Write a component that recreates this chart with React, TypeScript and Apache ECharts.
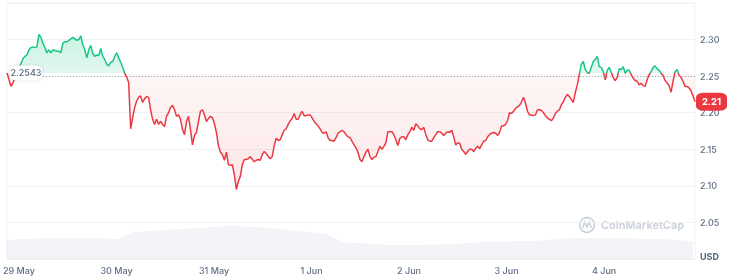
import React, { useEffect, useRef } from 'react';
import * as echarts from 'echarts';

// Opening price of the period (baseline)
const BASE_PRICE = 2.2543;
// first sample time, in hours relative to 29 May 00:00 (UTC), and sampling step (hours)
const DAY0 = Date.UTC(2025, 4, 29);
const START_HOUR = -2.945;
const STEP_HOUR = 0.4908;

// price samples (USD)
const price = [
  2.2543, 2.245, 2.236, 2.241, 2.248, 2.256, 2.262, 2.267, 2.274, 2.277,
  2.279, 2.286, 2.289, 2.290, 2.289, 2.290, 2.307, 2.303, 2.295, 2.289,
  2.282, 2.286, 2.282, 2.286, 2.285, 2.284, 2.284, 2.282, 2.295, 2.297,
  2.297, 2.299, 2.301, 2.303, 2.301, 2.299, 2.300, 2.305, 2.293, 2.286,
  2.275, 2.286, 2.292, 2.281, 2.277, 2.279, 2.278, 2.288, 2.277, 2.273,
  2.266, 2.264, 2.269, 2.270, 2.277, 2.282, 2.275, 2.269, 2.262, 2.254,
  2.249, 2.241,
  2.178, 2.193, 2.207, 2.216, 2.221, 2.223, 2.214, 2.219, 2.222, 2.221,
  2.204, 2.191, 2.184, 2.191, 2.184, 2.188, 2.184, 2.181, 2.195, 2.200,
  2.207, 2.210, 2.204, 2.195, 2.197, 2.191, 2.177, 2.170, 2.188, 2.195,
  2.177, 2.156, 2.169, 2.173, 2.188, 2.202, 2.204, 2.197, 2.188, 2.192,
  2.195, 2.193, 2.185, 2.173, 2.155, 2.146, 2.143, 2.135, 2.146, 2.129,
  2.128, 2.129, 2.115, 2.095,
  2.106, 2.113, 2.129, 2.136, 2.136, 2.137, 2.140, 2.136, 2.133, 2.135,
  2.136, 2.135, 2.143, 2.147, 2.144, 2.140, 2.137, 2.140, 2.155, 2.165,
  2.162, 2.163, 2.170, 2.176, 2.178, 2.184, 2.189, 2.192, 2.199, 2.191,
  2.191, 2.197, 2.202, 2.196, 2.196, 2.197, 2.197, 2.193, 2.188, 2.185,
  2.182, 2.178, 2.173, 2.172, 2.174, 2.166, 2.162, 2.162, 2.161, 2.166,
  2.172, 2.174, 2.176, 2.174, 2.170, 2.167, 2.166, 2.161, 2.156, 2.152,
  2.146, 2.136, 2.133, 2.140, 2.146, 2.150, 2.140, 2.136, 2.139, 2.140,
  2.147, 2.154, 2.150, 2.154, 2.159, 2.174, 2.174, 2.174, 2.170, 2.163,
  2.155, 2.165, 2.167, 2.167, 2.163, 2.170, 2.174, 2.180, 2.176, 2.185,
  2.182, 2.178, 2.177, 2.180, 2.170, 2.163, 2.161, 2.161, 2.166, 2.170,
  2.174, 2.174, 2.172, 2.169, 2.172, 2.174, 2.173, 2.176, 2.167, 2.156,
  2.159, 2.158, 2.150, 2.147, 2.143, 2.147, 2.150, 2.150, 2.147, 2.151,
  2.154, 2.151, 2.156, 2.161, 2.162, 2.167, 2.170, 2.172, 2.173, 2.172,
  2.169, 2.173, 2.182, 2.182, 2.184, 2.189, 2.200, 2.199, 2.202, 2.206,
  2.208, 2.210, 2.215, 2.221, 2.213, 2.202, 2.197, 2.197, 2.196, 2.197,
  2.204, 2.204, 2.203, 2.200, 2.196, 2.193, 2.191, 2.189, 2.193, 2.199,
  2.202, 2.204, 2.211, 2.215, 2.221, 2.225, 2.222, 2.218, 2.214, 2.228,
  2.238, 2.252, 2.266, 2.270, 2.259, 2.255, 2.254, 2.262, 2.270, 2.273,
  2.277, 2.263, 2.262, 2.256, 2.245, 2.258, 2.262, 2.255, 2.248, 2.244,
  2.248, 2.260, 2.259, 2.263, 2.254, 2.258, 2.258, 2.252, 2.247, 2.244,
  2.243, 2.238, 2.240, 2.237, 2.236, 2.245, 2.252, 2.256, 2.262, 2.264,
  2.260, 2.258, 2.254, 2.251, 2.244, 2.241, 2.237, 2.228, 2.243, 2.256,
  2.259, 2.251, 2.248, 2.243, 2.236, 2.236, 2.234, 2.230, 2.223, 2.215,
];

// 24h volume (billions USD), one sample every VOL_EVERY price samples
const VOL_EVERY = 8;
const volume = [
  1.86, 1.95, 2.0, 2.05, 2.05, 2.05, 2.0, 1.95, 2.64, 2.73,
  2.83, 2.93, 3.03, 3.13, 3.32, 3.13, 3.08, 2.93, 2.73, 2.64,
  2.44, 1.66, 1.56, 1.46, 1.37, 1.37, 1.37, 1.42, 1.46, 1.56,
  1.66, 1.71, 1.76, 1.76, 1.86, 2.0, 2.05, 2.05, 2.05, 2.0,
  1.95, 1.95, 1.86, 1.71,
];

const MONTHS = ['Jan', 'Feb', 'Mar', 'Apr', 'May', 'Jun', 'Jul', 'Aug', 'Sep', 'Oct', 'Nov', 'Dec'];

const Y_MIN = 2.0;
const Y_MAX = 2.35;
const Y_STEP = 0.05;
const VOL_MAX = 25;

const GREEN = '#16c784';
const RED = '#ea3943';
const TEXT = '#616e85';
const FONT = 'Inter, "Noto Sans", sans-serif';
const DAY_MS = 24 * 3600 * 1000;

export default function App() {
  const ref = useRef<HTMLDivElement>(null);

  useEffect(() => {
    if (!ref.current) return;
    const chart = echarts.init(ref.current, null, { renderer: 'svg' });
    const t = (i: number) => DAY0 + (START_HOUR + i * STEP_HOUR) * 3600 * 1000;
    const priceData = price.map((v, i) => [t(i), v]);
    const upData = price.map((v, i) => [t(i), Math.max(v, BASE_PRICE)]);
    const downData = price.map((v, i) => [t(i), Math.min(v, BASE_PRICE)]);
    const volData = volume.map((v, k) => [t(k * VOL_EVERY), v]);
    const firstT = t(0);
    const lastT = t(price.length - 1);
    const lastV = price[price.length - 1];
    const lastLabel = (Math.floor(lastV * 100) / 100).toFixed(2);

    chart.setOption({
      animation: false,
      useUTC: true,
      textStyle: { fontFamily: FONT },
      grid: {
        left: 5,
        right: 36,
        top: 3,
        bottom: 19,
        show: true,
        borderColor: '#eff2f5',
        borderWidth: 1,
      },
      xAxis: {
        type: 'time',
        min: firstT,
        max: lastT,
        minInterval: DAY_MS,
        maxInterval: DAY_MS,
        axisLine: { show: false },
        axisTick: { show: false },
        splitLine: { show: false },
        axisLabel: {
          formatter: (v: number) => {
            const d = new Date(v);
            if (d.getUTCHours() !== 0 || d.getUTCMinutes() !== 0) return '';
            return d.getUTCDate() + ' ' + MONTHS[d.getUTCMonth()];
          },
          color: TEXT,
          fontSize: 9,
          fontWeight: 500,
          margin: 7,
          hideOverlap: false,
        },
      },
      yAxis: [
        {
          type: 'value',
          position: 'right',
          min: Y_MIN,
          max: Y_MAX,
          interval: Y_STEP,
          axisLine: { show: false },
          axisTick: { show: false },
          splitLine: { lineStyle: { color: '#eff2f5', width: 1 } },
          axisLabel: {
            margin: 5,
            color: TEXT,
            fontSize: 9,
            fontWeight: 500,
            showMinLabel: true,
            showMaxLabel: true,
            formatter: (v: number) => {
              if (v > Y_MAX - 0.001) return '';
              if (v < Y_MIN + 0.001) return '{usd|USD}';
              return v.toFixed(2);
            },
            rich: {
              usd: {
                color: '#58667e',
                fontWeight: 'bold',
                fontSize: 9,
                fontFamily: FONT,
                padding: [0, 0, 6, 0],
              },
            },
          },
        },
        { type: 'value', min: 0, max: VOL_MAX, show: false },
      ],
      visualMap: {
        type: 'piecewise',
        show: false,
        dimension: 1,
        seriesIndex: 3,
        pieces: [
          { gt: BASE_PRICE, lte: 10, color: GREEN },
          { gte: 0, lte: BASE_PRICE, color: RED },
        ],
        outOfRange: { color: RED },
      },
      graphic: [
        {
          type: 'circle',
          silent: true,
          shape: { cx: 587, cy: 225, r: 7.3 },
          style: { fill: 'none', stroke: '#c9ced8', lineWidth: 1.6 },
        },
        {
          type: 'polyline',
          silent: true,
          shape: {
            points: [
              [582.6, 228],
              [584.8, 222],
              [587, 227],
              [589.2, 222],
              [591.4, 228],
            ],
          },
          style: { fill: 'none', stroke: '#c9ced8', lineWidth: 1.5 },
        },
        {
          type: 'text',
          silent: true,
          x: 601,
          y: 225,
          style: {
            text: 'CoinMarketCap',
            fill: '#c9ced8',
            fontSize: 11,
            fontWeight: 600,
            fontFamily: FONT,
            verticalAlign: 'middle',
          },
        },
      ],
      series: [
        {
          name: 'Volume',
          type: 'line',
          yAxisIndex: 1,
          data: volData,
          symbol: 'none',
          silent: true,
          z: 1,
          lineStyle: { opacity: 0 },
          areaStyle: { color: 'rgba(196,205,219,0.32)' },
        },
        {
          name: 'Above',
          type: 'line',
          data: upData,
          symbol: 'none',
          silent: true,
          z: 2,
          lineStyle: { opacity: 0 },
          areaStyle: {
            origin: BASE_PRICE,
            color: new echarts.graphic.LinearGradient(0, 0, 0, 1, [
              { offset: 0, color: 'rgba(22,199,132,0.33)' },
              { offset: 1, color: 'rgba(22,199,132,0.18)' },
            ]),
          },
        },
        {
          name: 'Below',
          type: 'line',
          data: downData,
          symbol: 'none',
          silent: true,
          clip: false,
          z: 2,
          lineStyle: { opacity: 0 },
          itemStyle: { color: '#a3abb8' },
          areaStyle: {
            origin: BASE_PRICE,
            color: new echarts.graphic.LinearGradient(0, 0, 0, 1, [
              { offset: 0, color: 'rgba(234,57,67,0.06)' },
              { offset: 1, color: 'rgba(234,57,67,0.18)' },
            ]),
          },
          markLine: {
            silent: true,
            symbol: ['none', 'none'],
            label: { show: false },
            lineStyle: { color: '#a3abb8', type: [1, 2], width: 1, opacity: 1 },
            data: [{ yAxis: BASE_PRICE }],
          },
          markPoint: {
            silent: true,
            data: [
              {
                coord: [firstT, BASE_PRICE],
                symbol: 'roundRect',
                symbolSize: [32, 15],
                symbolOffset: [19, 0],
                itemStyle: {
                  color: '#ffffff',
                  shadowBlur: 3,
                  shadowColor: 'rgba(88,102,126,0.3)',
                },
                label: {
                  show: true,
                  position: 'inside',
                  formatter: String(BASE_PRICE),
                  color: '#58667e',
                  fontSize: 9,
                  fontWeight: 500,
                  fontFamily: FONT,
                },
              },
              {
                coord: [lastT, lastV],
                symbol: 'roundRect',
                symbolSize: [31, 18],
                symbolOffset: [16.5, 0],
                itemStyle: { color: RED },
                label: {
                  show: true,
                  position: 'inside',
                  formatter: lastLabel,
                  color: '#ffffff',
                  fontSize: 9.5,
                  fontWeight: 'bold',
                  fontFamily: FONT,
                },
              },
            ],
          },
        },
        {
          name: 'Price',
          type: 'line',
          data: priceData,
          symbol: 'none',
          z: 3,
          lineStyle: { width: 1.5 },
        },
      ],
    });

    return () => chart.dispose();
  }, []);

  return (
    <div
      ref={ref}
      style={{ position: 'fixed', left: 0, top: 0, width: 731, height: 278 }}
    />
  );
}
